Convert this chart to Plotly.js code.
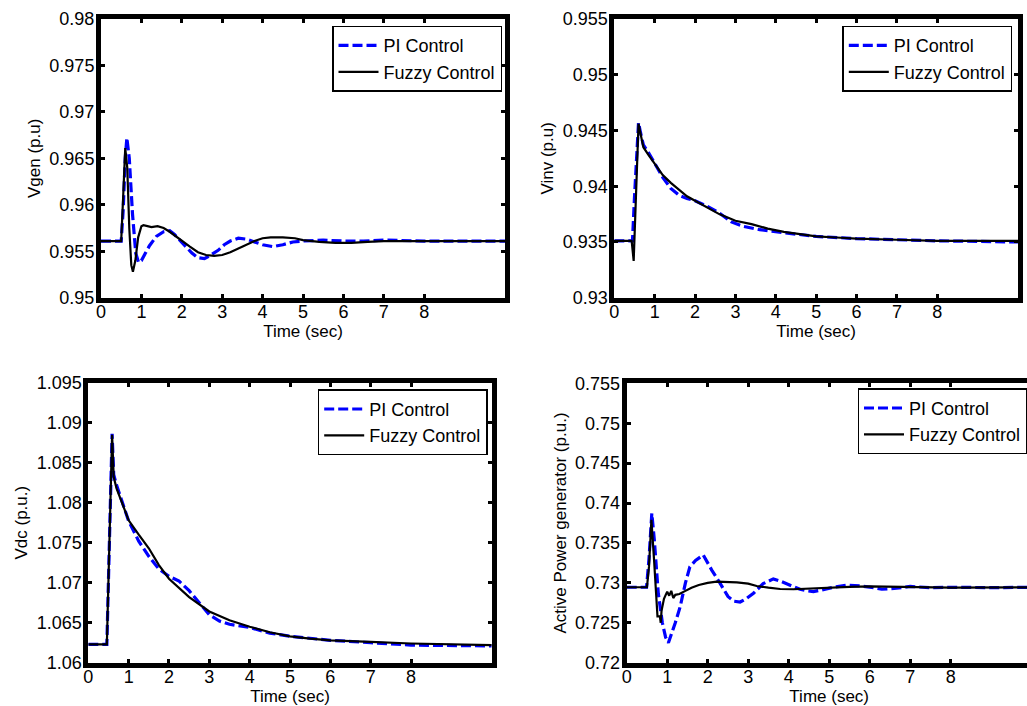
<!DOCTYPE html>
<html>
<head>
<meta charset="utf-8">
<script src="https://cdn.plot.ly/plotly-3.0.1.min.js"></script>
<style>
html, body { margin: 0; padding: 0; overflow: hidden; background: #fff; }
#chart { width: 1040px; height: 706px; }
</style>
</head>
<body>
<div id="chart"></div>
<script>
// ---------- data ----------
const seriesNames = ["PI Control", "Fuzzy Control"];
const xTickVals = [0, 1, 2, 3, 4, 5, 6, 7, 8];
const xTickText = ["0", "1", "2", "3", "4", "5", "6", "7", "8"];

// Vgen
const tGenPI = [0, 0.5, 0.55, 0.6, 0.64, 0.7, 0.78, 0.86, 0.93, 1.0, 1.1, 1.2, 1.37, 1.55, 1.7, 1.82, 1.95, 2.1, 2.25, 2.4, 2.56, 2.72, 2.9, 3.05, 3.2, 3.4, 3.6, 3.8, 4.0, 4.25, 4.5, 4.75, 5.0, 5.5, 6.0, 6.5, 7.0, 8.0, 10];
const vGenPI = [0.9561, 0.9561, 0.9595, 0.9650, 0.9672, 0.9650, 0.9590, 0.9548, 0.9538, 0.9540, 0.9548, 0.9556, 0.9566, 0.9571, 0.9572, 0.9568, 0.9562, 0.9555, 0.9548, 0.9543, 0.9542, 0.9546, 0.9551, 0.9557, 0.9561, 0.9564, 0.9563, 0.9560, 0.9557, 0.9555, 0.9557, 0.9560, 0.9561, 0.9562, 0.9561, 0.9561, 0.9562, 0.9561, 0.9561];
const tGenFz = [0, 0.5, 0.55, 0.6, 0.65, 0.7, 0.75, 0.79, 0.85, 0.92, 1.0, 1.05, 1.15, 1.25, 1.4, 1.55, 1.7, 1.85, 2.0, 2.2, 2.4, 2.6, 2.8, 3.0, 3.2, 3.4, 3.6, 3.8, 4.0, 4.2, 4.5, 4.8, 5.0, 5.4, 5.8, 6.2, 6.6, 7.0, 8.0, 10];
const vGenFz = [0.9561, 0.9561, 0.9610, 0.9661, 0.9640, 0.9575, 0.9535, 0.9528, 0.9540, 0.9565, 0.9577, 0.9578, 0.9577, 0.9576, 0.9577, 0.9575, 0.9571, 0.9566, 0.9561, 0.9555, 0.9549, 0.9546, 0.9545, 0.9546, 0.9549, 0.9553, 0.9557, 0.9561, 0.9564, 0.9565, 0.9565, 0.9564, 0.9562, 0.9560, 0.9559, 0.9559, 0.9560, 0.9561, 0.9561, 0.9561];
const yGenTicks = [0.95, 0.955, 0.96, 0.965, 0.97, 0.975, 0.98];
const yGenText = ["0.95", "0.955", "0.96", "0.965", "0.97", "0.975", "0.98"];

// Vinv
const tInvPI = [0, 0.45, 0.5, 0.6, 0.65, 0.72, 0.85, 1.0, 1.2, 1.4, 1.6, 1.8, 2.0, 2.3, 2.6, 2.9, 3.2, 3.6, 4.0, 4.5, 5.0, 5.5, 6.0, 7.0, 8.0, 10];
const vInvPI = [0.9351, 0.9351, 0.9390, 0.9457, 0.9448, 0.9437, 0.9430, 0.9421, 0.9408, 0.9398, 0.9392, 0.9389, 0.9387, 0.9382, 0.9376, 0.9368, 0.9364, 0.9361, 0.9359, 0.9357, 0.9355, 0.9354, 0.9353, 0.9352, 0.9351, 0.9350];
const tInvFz = [0, 0.43, 0.48, 0.52, 0.6, 0.65, 0.72, 0.85, 1.0, 1.2, 1.4, 1.6, 1.8, 2.0, 2.3, 2.6, 3.0, 3.4, 3.8, 4.2, 4.6, 5.0, 5.5, 6.0, 7.0, 8.0, 10];
const vInvFz = [0.9351, 0.9351, 0.9333, 0.9380, 0.9456, 0.9447, 0.9435, 0.9428, 0.9420, 0.9410, 0.9403, 0.9397, 0.9391, 0.9387, 0.9381, 0.9375, 0.9369, 0.9366, 0.9362, 0.9359, 0.9357, 0.9355, 0.9354, 0.9353, 0.9352, 0.9351, 0.9351];
const yInvTicks = [0.93, 0.935, 0.94, 0.945, 0.95, 0.955];
const yInvText = ["0.93", "0.935", "0.94", "0.945", "0.95", "0.955"];

// Vdc
const tDcPI = [0, 0.46, 0.59, 0.63, 0.7, 0.85, 1.0, 1.25, 1.5, 1.75, 2.0, 2.25, 2.5, 2.75, 3.0, 3.25, 3.5, 4.0, 4.5, 5.0, 5.5, 6.0, 7.0, 8.0, 10];
const vDcPI = [1.0623, 1.0623, 1.0886, 1.0835, 1.0822, 1.0800, 1.0777, 1.0752, 1.0733, 1.0717, 1.0708, 1.0702, 1.0690, 1.0675, 1.0660, 1.0652, 1.0648, 1.0644, 1.0637, 1.0633, 1.0630, 1.0628, 1.0625, 1.0622, 1.0621];
const tDcFz = [0, 0.46, 0.59, 0.63, 0.7, 0.85, 1.0, 1.25, 1.5, 1.75, 2.0, 2.5, 3.0, 3.5, 4.0, 4.5, 5.0, 5.5, 6.0, 7.0, 8.0, 10];
const vDcFz = [1.0623, 1.0623, 1.0885, 1.0832, 1.0818, 1.0798, 1.0778, 1.0760, 1.0743, 1.0722, 1.0705, 1.0682, 1.0664, 1.0653, 1.0645, 1.0638, 1.0633, 1.0630, 1.0628, 1.0626, 1.0624, 1.0622];
const yDcTicks = [1.06, 1.065, 1.07, 1.075, 1.08, 1.085, 1.09, 1.095];
const yDcText = ["1.06", "1.065", "1.07", "1.075", "1.08", "1.085", "1.09", "1.095"];

// Active power
const tPPI = [0, 0.49, 0.55, 0.62, 0.68, 0.78, 0.88, 0.96, 1.03, 1.1, 1.2, 1.32, 1.45, 1.56, 1.7, 1.89, 2.0, 2.1, 2.3, 2.5, 2.65, 2.8, 2.95, 3.13, 3.37, 3.62, 3.8, 3.95, 4.1, 4.28, 4.45, 4.61, 4.8, 5.1, 5.43, 5.8, 6.1, 6.3, 6.6, 7.0, 7.5, 8.0, 9.0, 10];
const vPPI = [0.72945, 0.72945, 0.7330, 0.7387, 0.7355, 0.7287, 0.7250, 0.7232, 0.7225, 0.7235, 0.7250, 0.7270, 0.7300, 0.7320, 0.7328, 0.7335, 0.7325, 0.7316, 0.7300, 0.7283, 0.7277, 0.7276, 0.7280, 0.7287, 0.7299, 0.7305, 0.7302, 0.7299, 0.7295, 0.7292, 0.7290, 0.7289, 0.7291, 0.72945, 0.7297, 0.7296, 0.7294, 0.7292, 0.7293, 0.72955, 0.7294, 0.72945, 0.7294, 0.72945];
const tPFz = [0, 0.5, 0.55, 0.61, 0.68, 0.76, 0.82, 0.84, 0.86, 0.92, 1.0, 1.05, 1.1, 1.15, 1.2, 1.3, 1.45, 1.6, 1.78, 2.0, 2.22, 2.5, 2.72, 3.0, 3.21, 3.5, 3.79, 4.12, 4.5, 5.0, 5.5, 6.0, 6.5, 7.0, 8.0, 10];
const vPFz = [0.72945, 0.72945, 0.7320, 0.7379, 0.7325, 0.7258, 0.7258, 0.7250, 0.7265, 0.7280, 0.7289, 0.7284, 0.7290, 0.7281, 0.7285, 0.7286, 0.7290, 0.7294, 0.72974, 0.7300, 0.73015, 0.7301, 0.73006, 0.7299, 0.72961, 0.7294, 0.72923, 0.7292, 0.7293, 0.7294, 0.7295, 0.72955, 0.7295, 0.72945, 0.7294, 0.72945];
const yPTicks = [0.72, 0.725, 0.73, 0.735, 0.74, 0.745, 0.75, 0.755];
const yPText = ["0.72", "0.725", "0.73", "0.735", "0.74", "0.745", "0.75", "0.755"];

const yTitles = ["Vgen (p.u)", "Vinv (p.u)", "Vdc (p.u.)", "Active Power generator (p.u.)"];
const xTitle = "Time (sec)";

// ---------- layout ----------
const W = 1040, H = 706;
const FONT = "'Liberation Sans', Arial, sans-serif";
const FS = 18;      // tick labels, legend
const FSX = 17;     // x axis titles
const FSV = 17;     // vertical axis titles
// plot boxes in pixels: [left, right, top, bottom]
const boxes = [
  [101, 505, 19, 297.7],
  [614.3, 1018, 19, 297.7],
  [88.3, 491.7, 382.7, 662.7],
  [626.7, 1031.7, 383.3, 662.7]
];
const legendPos = [[502, 25.7], [1012.3, 25.7], [487.7, 389.3], [1027.5, 388.3]];

const yRanges = [[0.95, 0.98], [0.93, 0.955], [1.06, 1.095], [0.72, 0.755]];
const yTickSets = [[yGenTicks, yGenText], [yInvTicks, yInvText], [yDcTicks, yDcText], [yPTicks, yPText]];
const dataSets = [
  [tGenPI, vGenPI, tGenFz, vGenFz],
  [tInvPI, vInvPI, tInvFz, vInvFz],
  [tDcPI, vDcPI, tDcFz, vDcFz],
  [tPPI, vPPI, tPFz, vPFz]
];

const traces = [];
const layout = {
  width: W, height: H,
  margin: {l: 0, r: 0, t: 0, b: 0},
  paper_bgcolor: "#fff", plot_bgcolor: "#fff",
  font: {family: FONT, size: FS, color: "#000"},
  showlegend: true
};

function axisCommon() {
  return {
    showline: true, linewidth: 5, linecolor: "#000", mirror: "ticks",
    ticks: "inside", ticklen: 4, tickwidth: 3, tickcolor: "#000",
    showgrid: false, zeroline: false,
    tickfont: {family: FONT, size: FS, color: "#000"}
  };
}

for (let i = 0; i < 4; i++) {
  const n = i === 0 ? "" : String(i + 1);
  const b = boxes[i];
  const [tp, vp, tf, vf] = dataSets[i];
  const leg = "legend" + n;
  traces.push({
    x: tp, y: vp, xaxis: "x" + n, yaxis: "y" + n, mode: "lines",
    name: seriesNames[0], legend: leg,
    line: {color: "rgb(0,0,255)", width: 3.2, dash: "10px,4px"}
  });
  traces.push({
    x: tf, y: vf, xaxis: "x" + n, yaxis: "y" + n, mode: "lines",
    name: seriesNames[1], legend: leg,
    line: {color: "#000", width: 2.2}
  });
  layout["xaxis" + n] = Object.assign(axisCommon(), {
    domain: [b[0] / W, b[1] / W], anchor: "y" + n,
    range: [0, 10], tickvals: xTickVals, ticktext: xTickText,
    ticklabelstandoff: -6,
    title: {text: xTitle, font: {family: FONT, size: FSX, color: "#000"}, standoff: 3}
  });
  layout["yaxis" + n] = Object.assign(axisCommon(), {
    domain: [1 - b[3] / H, 1 - b[2] / H], anchor: "x" + n,
    range: yRanges[i], tickvals: yTickSets[i][0], ticktext: yTickSets[i][1],
    ticklabelstandoff: -2,
    title: {text: yTitles[i], font: {family: FONT, size: FSV, color: "#000"}, standoff: 6}
  });
  layout[leg] = {
    x: legendPos[i][0] / W, y: 1 - legendPos[i][1] / H,
    xanchor: "right", yanchor: "top",
    bgcolor: "#fff", bordercolor: "#000", borderwidth: 1.5,
    font: {family: FONT, size: FS, color: "#000"},
    itemwidth: 40, tracegroupgap: 0
  };
}

Plotly.newPlot("chart", traces, layout, {displayModeBar: false, staticPlot: true});
</script>
</body>
</html>
